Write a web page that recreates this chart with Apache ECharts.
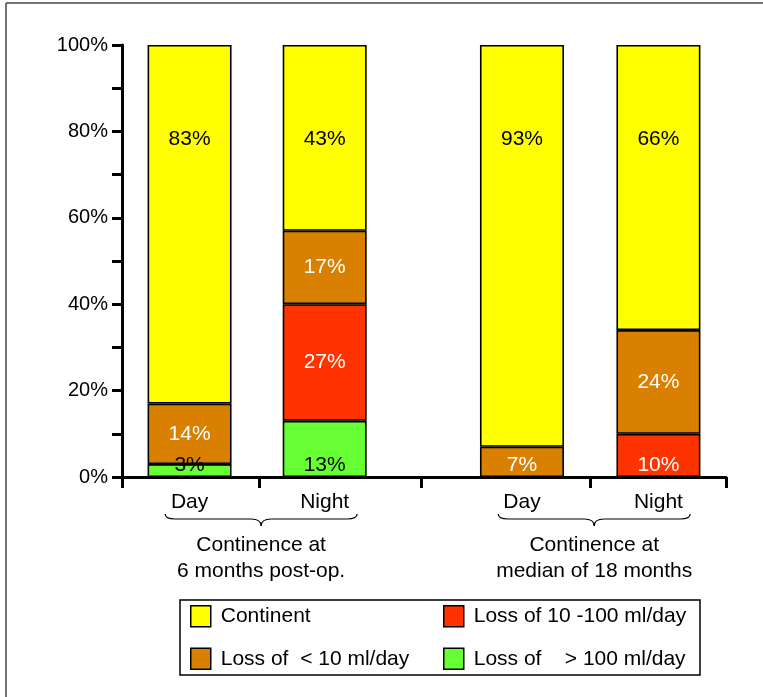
<!DOCTYPE html>
<html>
<head>
<meta charset="utf-8">
<script src="https://cdn.jsdelivr.net/npm/echarts@6/dist/echarts.min.js"></script>
<style>
  html, body { margin: 0; padding: 0; background: #fff; }
  #chart { width: 763px; height: 697px; }
</style>
</head>
<body>
<div id="chart"></div>
<script>
// Bar labels and their positions along the x value axis
const categories = ['Day', 'Night', 'Day', 'Night'];
const barPositions = [1, 2, 3.46, 4.47];
const xTickValues = [0.5, 1.515, 2.715, 3.967, 4.97];
const groupTitles = ['Continence at\n6 months post-op.', 'Continence at\nmedian of 18 months'];
const groupMembers = [[0, 1], [2, 3]];

// Percent of patients in each continence class (bottom to top of the stack)
const seriesNames = ['Loss of    > 100 ml/day', 'Loss of 10 -100 ml/day', 'Loss of  < 10 ml/day', 'Continent'];
const lossOver100 = [3, 13, 0, 0];
const loss10to100 = [0, 27, 0, 10];
const lossUnder10 = [14, 17, 7, 24];
const continent = [83, 43, 93, 66];

const yTicks = [0, 20, 40, 60, 80, 100];

const FONT = "'Liberation Sans', Arial, sans-serif";
const colors = ['#66FF33', '#FF3300', '#D98000', '#FFFF00'];
const labelColors = ['#000', '#fff', '#fff', '#000'];
const values = [lossOver100, loss10to100, lossUnder10, continent];

// which stack layer is lowest non-empty in each bar
const bottomLayer = categories.map((_, i) => values.findIndex(v => v[i] > 0));

// Percent goes in column 0 so the stack accumulates along y, position in column 1
const series = values.map((vals, s) => ({
  name: seriesNames[s],
  type: 'bar',
  stack: 'total',
  barWidth: 84,
  encode: { x: 1, y: 0 },
  itemStyle: { color: colors[s], borderColor: '#000', borderWidth: 1.6 },
  label: {
    show: true,
    position: s === 3 ? 'insideTop' : 'inside',
    distance: s === 3 ? 84 : 5,
    color: labelColors[s],
    fontFamily: FONT,
    fontSize: 21,
    formatter: p => p.value[0] + '%'
  },
  data: vals.map((v, i) => {
    const item = { value: [v > 0 ? v : '-', barPositions[i]] };
    if (v > 0 && bottomLayer[i] === s && s !== 3) {
      item.label = { position: 'insideBottom', distance: 1 };
    }
    return item;
  })
}));

const legendBase = {
  orient: 'vertical', top: 605, padding: 0,
  itemGap: 20, itemWidth: 20, itemHeight: 21, icon: 'rect',
  itemStyle: { borderColor: '#000', borderWidth: 1.5 },
  textStyle: { fontFamily: FONT, fontSize: 21, color: '#000', padding: [0, 0, 0, 5] },
  selectedMode: false
};

const chart = echarts.init(document.getElementById('chart'), null, { renderer: 'canvas' });

chart.setOption({
  animation: false,
  backgroundColor: '#fff',
  grid: { left: 122, right: 37, top: 45, bottom: 220 },
  legend: [
    Object.assign({}, legendBase, { left: 190, data: [seriesNames[3], seriesNames[2]] }),
    Object.assign({}, legendBase, { left: 443, data: [seriesNames[1], seriesNames[0]] })
  ],
  xAxis: {
    type: 'value',
    min: xTickValues[0],
    max: xTickValues[xTickValues.length - 1],
    axisLine: { show: true, lineStyle: { color: '#000', width: 3 } },
    axisTick: { show: true, length: 11, lineStyle: { color: '#000', width: 3 }, customValues: xTickValues },
    axisLabel: {
      customValues: barPositions,
      formatter: v => categories[barPositions.indexOf(v)] || '',
      margin: 15, color: '#000', fontFamily: FONT, fontSize: 21
    },
    splitLine: { show: false }
  },
  yAxis: {
    type: 'value',
    min: yTicks[0], max: yTicks[yTicks.length - 1], interval: 20,
    axisLine: { show: true, lineStyle: { color: '#000', width: 3 } },
    axisTick: { show: true, length: 10, lineStyle: { color: '#000', width: 3 } },
    minorTick: { show: true, splitNumber: 2, length: 10, lineStyle: { color: '#000', width: 3 } },
    axisLabel: { formatter: '{value}%', margin: 14, color: '#000', fontFamily: FONT, fontSize: 20 },
    splitLine: { show: false }
  },
  series: series
});

// Frame, legend box, group braces and group titles
const graphics = [
  { type: 'line', shape: { x1: 6, y1: 3, x2: 763, y2: 3 }, style: { stroke: '#444', lineWidth: 1.5 } },
  { type: 'line', shape: { x1: 6, y1: 3, x2: 6, y2: 697 }, style: { stroke: '#444', lineWidth: 1.5 } },
  { type: 'rect', shape: { x: 180, y: 600, width: 520, height: 75 }, style: { fill: 'none', stroke: '#000', lineWidth: 1.5 } }
];

const braceStyle = { fill: 'none', stroke: '#000', lineWidth: 1.2 };
groupMembers.forEach((members, g) => {
  const px = members.map(i => chart.convertToPixel({ xAxisIndex: 0 }, barPositions[i]));
  const cx = (px[0] + px[1]) / 2 + 4;
  const w = 96, y0 = 514, ym = y0 + 5, yt = y0 + 12, r = 10;
  graphics.push(
    { type: 'bezierCurve', shape: { x1: cx - w, y1: y0, cpx1: cx - w, cpy1: ym, x2: cx - w + r, y2: ym }, style: braceStyle },
    { type: 'line', shape: { x1: cx - w + r, y1: ym, x2: cx - r, y2: ym }, style: braceStyle },
    { type: 'bezierCurve', shape: { x1: cx - r, y1: ym, cpx1: cx, cpy1: ym, x2: cx, y2: yt }, style: braceStyle },
    { type: 'bezierCurve', shape: { x1: cx, y1: yt, cpx1: cx, cpy1: ym, x2: cx + r, y2: ym }, style: braceStyle },
    { type: 'line', shape: { x1: cx + r, y1: ym, x2: cx + w - r, y2: ym }, style: braceStyle },
    { type: 'bezierCurve', shape: { x1: cx + w - r, y1: ym, cpx1: cx + w, cpy1: ym, x2: cx + w, y2: y0 }, style: braceStyle },
    {
      type: 'text', x: cx, y: 532,
      style: { text: groupTitles[g], font: `21px ${FONT}`, fill: '#000', align: 'center', verticalAlign: 'top', lineHeight: 26 }
    }
  );
});

chart.setOption({ graphic: graphics });
</script>
</body>
</html>
